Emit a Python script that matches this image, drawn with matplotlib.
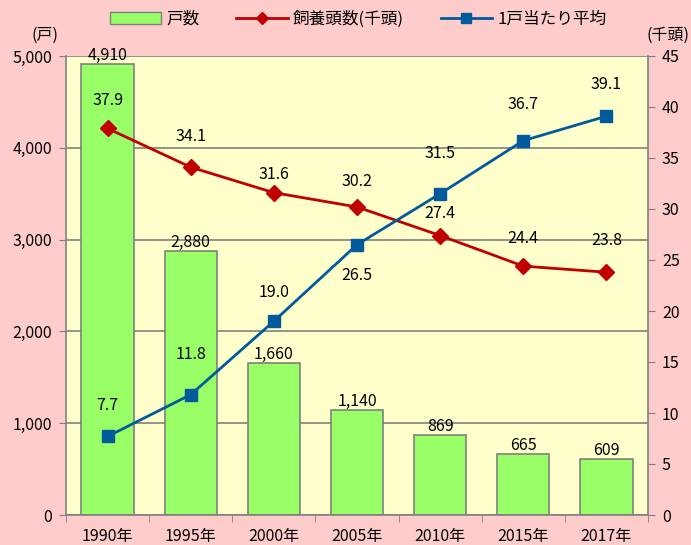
import matplotlib
matplotlib.use("Agg")
import matplotlib.pyplot as plt
from matplotlib.lines import Line2D
from matplotlib.patches import Patch

plt.rcParams['font.family'] = ['Noto Sans CJK JP', 'DejaVu Sans']

years = ["1990年", "1995年", "2000年", "2005年", "2010年", "2015年", "2017年"]
households = [4910, 2880, 1660, 1140, 869, 665, 609]
heads = [37.9, 34.1, 31.6, 30.2, 27.4, 24.4, 23.8]
per_house = [7.7, 11.8, 19.0, 26.5, 31.5, 36.7, 39.1]

FS = 11.5

fig = plt.figure(figsize=(6.91, 5.45), dpi=100)
fig.patch.set_facecolor('#FFCCCC')
ax = fig.add_axes([66/691, 1-515/545, (648-66)/691, (515-56)/545])
ax.set_facecolor('#FFFFCC')
x = list(range(len(years)))
bars = ax.bar(x, households, width=0.63, color='#99FF66', edgecolor='#808080', linewidth=1.2, zorder=2)
ax.set_xlim(-0.5, len(years)-0.5)
ax.set_ylim(0, 5000)
ax.set_yticks(range(0, 5001, 1000))
ax.set_yticklabels([f"{v:,}" for v in range(0, 5001, 1000)])
ax.yaxis.grid(True, color='#808080', linewidth=1.2, zorder=0)
ax.set_axisbelow(True)
ax.set_xticks(x)
ax.set_xticklabels(years)
ax.set_xticks([i + 0.5 for i in range(-1, len(years))], minor=True)
ax.tick_params(axis='x', which='major', length=0, pad=9, labelsize=FS)
ax.tick_params(axis='x', which='minor', length=5, color='#808080', direction='out')
ax.tick_params(axis='y', length=5, color='#808080', labelsize=FS, pad=5)
for s in ['left', 'bottom', 'right']:
    ax.spines[s].set_color('#808080')
    ax.spines[s].set_linewidth(1.2)
ax.spines['top'].set_visible(False)

for xi, v in zip(x, households):
    ax.annotate(f"{v:,}", (xi, v), xytext=(0, 0), textcoords='offset points',
                ha='center', va='bottom', fontsize=FS)

ax2 = ax.twinx()
ax2.set_ylim(0, 45)
ax2.set_yticks(range(0, 46, 5))
ax2.tick_params(axis='y', length=5, color='#808080', labelsize=FS, pad=5)
for s in ['left', 'bottom', 'right', 'top']:
    ax2.spines[s].set_visible(False)
ax2.plot(x, heads, color='#C00000', linewidth=2, marker='D', markersize=8, zorder=3)
ax2.plot(x, per_house, color='#005A9C', linewidth=2, marker='s', markersize=9, zorder=4)

red_off = [20, 22, 13, 18, 16, 20, 23]
blue_off = [22, 29, 21, -22, 29, 26, 23]
for xi, v, o in zip(x, heads, red_off):
    ax2.annotate(f"{v:.1f}", (xi, v), xytext=(0, o), textcoords='offset points',
                 ha='center', va='center', fontsize=FS)
for xi, v, o in zip(x, per_house, blue_off):
    ax2.annotate(f"{v:.1f}", (xi, v), xytext=(0, o), textcoords='offset points',
                 ha='center', va='center', fontsize=FS)

fig.text(45/691, 1-35/545, "(戸)", ha='center', va='center', fontsize=FS)
fig.text(689/691, 1-35/545, "(千頭)", ha='right', va='center', fontsize=FS)

handles = [Patch(facecolor='#99FF66', edgecolor='#808080'),
           Line2D([0], [0], color='#C00000', linewidth=2, marker='D', markersize=6),
           Line2D([0], [0], color='#005A9C', linewidth=2, marker='s', markersize=7)]
labels = ["戸数", "飼養頭数(千頭)", "1戸当たり平均"]
fig.legend(handles, labels, loc='center', bbox_to_anchor=(358/691, 1-19/545), ncol=3,
           frameon=False, fontsize=12, handlelength=3.1, columnspacing=2.2, handletextpad=0.3)

fig.savefig("out.png", dpi=100, facecolor=fig.get_facecolor())
